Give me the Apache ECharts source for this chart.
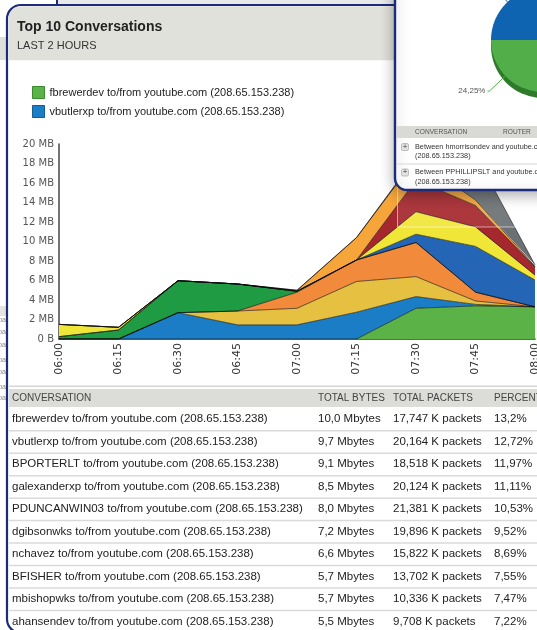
<!DOCTYPE html>
<html>
<head>
<meta charset="utf-8">
<title>Top 10 Conversations</title>
<script src="https://cdn.jsdelivr.net/npm/echarts@6/dist/echarts.min.js"></script>
<style>
  html, body { margin: 0; padding: 0; background: #fff; }
  #main { width: 537px; height: 630px; }
</style>
</head>
<body>
<div id="main"></div>
<script>
// x axis: 15 minute slots, last 2 hours
var times = ['06:00', '06:15', '06:30', '06:45', '07:00', '07:15', '07:30', '07:45', '08:00'];

// conversations, in table order
var hosts = ['fbrewerdev', 'vbutlerxp', 'BPORTERLT', 'galexanderxp', 'PDUNCANWIN03',
	'dgibsonwks', 'nchavez', 'BFISHER', 'mbishopwks', 'ahansendev'];
var peer = ' to/from youtube.com (208.65.153.238)';
var totalBytes = ['10,0 Mbytes', '9,7 Mbytes', '9,1 Mbytes', '8,5 Mbytes', '8,0 Mbytes',
	'7,2 Mbytes', '6,6 Mbytes', '5,7 Mbytes', '5,7 Mbytes', '5,5 Mbytes'];
var totalPackets = ['17,747 K packets', '20,164 K packets', '18,518 K packets', '20,124 K packets', '21,381 K packets',
	'19,896 K packets', '15,822 K packets', '13,702 K packets', '10,336 K packets', '9,708 K packets'];
var percents = ['13,2%', '12,72%', '11,97%', '11,11%', '10,53%', '9,52%', '8,69%', '7,55%', '7,47%', '7,22%'];

// MB per slot for each conversation
var fbrewerdev   = [0, 0, 0, 0, 0, 0, 3.15, 3.4, 3.3];
var vbutlerxp    = [0, 0, 2.7, 1.45, 1.45, 2.75, 1.2, 0.15, 0];
var bporterlt    = [0, 0, 0, 1.42, 1.7, 3.15, 2.05, 0.35, 0];
var galexanderxp = [0, 0, 0, 0, 1.65, 2.2, 3.5, 0.9, 0];
var dgibsonwks   = [0.24, 0.92, 3.28, 2.77, 0.1, 0, 0, 0, 0];
var pduncanwin03 = [0, 0, 0, 0, 0, 0, 0.85, 4.7, 2.75];
var nchavez      = [1.26, 0.28, 0, 0, 0, 0, 2.3, 2.0, 0.5];
var bfisher      = [0, 0, 0, 0, 0, 0, 3.25, 2.2, 0.85];
var mbishopwks   = [0, 0, 0, 0, 0.1, 2.3, 2.2, 0.55, 0.05];
var ahansendev   = [0, 0, 0, 0, 0, 0, 0.2, 4.65, 0.15];

// popup pie (share per router)
var routerShare = [24.25, 26.1, 27.4, 22.25];
var routerRows = ['Between hmorrisondev and youtube.com', 'Between PPHILLIPSLT and youtube.com'];

// stack, bottom to top
var layers = [
	{host: 'fbrewerdev', data: fbrewerdev, color: '#5bb247', border: '#3b8a2c'},
	{host: 'vbutlerxp', data: vbutlerxp, color: '#1b7dc5', border: '#145c94'},
	{host: 'BPORTERLT', data: bporterlt, color: '#e6c040'},
	{host: 'galexanderxp', data: galexanderxp, color: '#f28a3c'},
	{host: 'dgibsonwks', data: dgibsonwks, color: '#1e9b43'},
	{host: 'PDUNCANWIN03', data: pduncanwin03, color: '#2466b5'},
	{host: 'nchavez', data: nchavez, color: '#f0e637'},
	{host: 'BFISHER', data: bfisher, color: '#a5282e'},
	{host: 'mbishopwks', data: mbishopwks, color: '#f5a53a'},
	{host: 'ahansendev', data: ahansendev, color: '#6b7074'}
];

var sans = '"Liberation Sans", Arial, sans-serif';
var verdana = '"DejaVu Sans", Verdana, sans-serif';
var navy = '#1c2b7a';

function init() {
	var myChart = echarts.init(document.getElementById('main'));

	var series = layers.map(function(l) {
		return {
			name: l.host + peer,
			type: 'line',
			stack: 'total',
			data: l.data,
			showSymbol: false,
			symbol: 'none',
			lineStyle: {color: 'rgba(10,10,10,0.6)', width: 1},
			areaStyle: {color: l.color, opacity: 1},
			emphasis: {disabled: true},
			z: 2
		};
	});

	// 3d edge of the pie
	series.push({
		type: 'pie',
		center: [543, 46],
		radius: 52,
		startAngle: 267.3,
		silent: true,
		z: 54,
		label: {show: false},
		labelLine: {show: false},
		data: routerShare.map(function(v, i) {
			return {value: v, itemStyle: {color: ['#2e7a2a', '#0b4c8c', '#8a5a1a', '#777'][i]}};
		})
	});
	series.push({
		type: 'pie',
		center: [543, 40],
		radius: 52,
		startAngle: 267.3,
		silent: true,
		z: 60,
		avoidLabelOverlap: false,
		label: {
			show: true,
			position: 'outside',
			color: '#555',
			fontSize: 8,
			fontFamily: sans,
			distanceToLabelLine: 2,
			formatter: function(p) {
				return p.value.toFixed(2).replace('.', ',') + '%';
			}
		},
		labelLine: {show: true, length: 22, length2: 2, lineStyle: {width: 1}},
		data: routerShare.map(function(v, i) {
			return {value: v, itemStyle: {color: ['#52ae48', '#0e64b0', '#e8a030', '#999'][i]}};
		})
	});

	var g = [];

	// window behind
	g.push({type: 'rect', z: -3, shape: {x: 57, y: 0, width: 340, height: 6}, style: {fill: '#e9e9e9'}});
	g.push({type: 'rect', z: -3, shape: {x: 56, y: 0, width: 2, height: 6}, style: {fill: navy}});
	g.push({type: 'rect', z: -3, shape: {x: 0, y: 37, width: 8, height: 23}, style: {fill: '#dededa'}});
	g.push({type: 'rect', z: -3, shape: {x: 0, y: 306, width: 8, height: 10}, style: {fill: '#e4e4e0'}});
	[320, 332, 345, 360, 372, 387, 398].forEach(function(y) {
		g.push({type: 'text', z: -3, style: {text: 'pa', x: 6, y: y, textAlign: 'right', textVerticalAlign: 'middle', font: '7px ' + sans, fill: '#888'}});
	});

	// main panel
	g.push({type: 'rect', z: -2, shape: {x: 7, y: 5, width: 640, height: 628, r: 14},
		style: {fill: '#fff', stroke: navy, lineWidth: 2.2}});
	g.push({type: 'rect', z: -1, shape: {x: 8.2, y: 6.2, width: 620, height: 54, r: [13, 0, 0, 0]},
		style: {fill: '#e1e1dc'}});
	g.push({type: 'text', z: 1, style: {text: 'Top 10 Conversations', x: 17, y: 27, textVerticalAlign: 'middle',
		font: 'bold 14px ' + sans, fill: '#222'}});
	g.push({type: 'text', z: 1, style: {text: 'LAST 2 HOURS', x: 17, y: 46, textVerticalAlign: 'middle',
		font: '11px ' + sans, fill: '#333'}});

	// table
	var cols = [12, 318, 393, 494];
	var heads = ['CONVERSATION', 'TOTAL BYTES', 'TOTAL PACKETS', 'PERCENT'];
	g.push({type: 'rect', z: -1, shape: {x: 9, y: 385.5, width: 600, height: 1.5}, style: {fill: '#d6d6d6'}});
	g.push({type: 'rect', z: -1, shape: {x: 9, y: 389, width: 600, height: 18}, style: {fill: '#dcdcd8'}});
	heads.forEach(function(h, i) {
		g.push({type: 'text', z: 1, style: {text: h, x: cols[i], y: 398.5, textVerticalAlign: 'middle',
			font: '10px ' + sans, fill: '#444'}});
	});
	var rowTop = 408.1, rowH = 22.45;
	hosts.forEach(function(h, i) {
		var cy = rowTop + rowH * (i + 0.5);
		var cells = [h + peer, totalBytes[i], totalPackets[i], percents[i]];
		cells.forEach(function(c, j) {
			g.push({type: 'text', z: 1, style: {text: c, x: cols[j], y: cy, textVerticalAlign: 'middle',
				font: '11.5px ' + sans, fill: '#222'}});
		});
		if (i < hosts.length - 1) {
			g.push({type: 'rect', z: -1, shape: {x: 9, y: rowTop + rowH * (i + 1) - 0.5, width: 600, height: 1.5},
				style: {fill: '#dadada'}});
		}
	});

	// faint hover box over the peak
	g.push({type: 'rect', z: 40, shape: {x: 397.5, y: 150, width: 160, height: 77},
		style: {fill: 'rgba(255,255,255,0.08)', stroke: 'rgba(255,255,255,0.55)', lineWidth: 1}});

	// popup window
	g.push({type: 'rect', z: 50, shape: {x: 395, y: -30, width: 220, height: 220, r: 12},
		style: {fill: '#fff', stroke: navy, lineWidth: 2.4, shadowBlur: 14, shadowColor: 'rgba(0,0,0,0.3)', shadowOffsetY: 4}});
	g.push({type: 'rect', z: 51, shape: {x: 397, y: 126, width: 200, height: 12}, style: {fill: '#d9d9d5'}});
	g.push({type: 'text', z: 52, style: {text: 'CONVERSATION', x: 415, y: 132.5, textVerticalAlign: 'middle',
		font: '6.6px ' + sans, fill: '#555'}});
	g.push({type: 'text', z: 52, style: {text: 'ROUTER', x: 503, y: 132.5, textVerticalAlign: 'middle',
		font: '6.6px ' + sans, fill: '#555'}});
	routerRows.forEach(function(r, i) {
		var y0 = 146.5 + i * 25.5;
		g.push({type: 'rect', z: 51, shape: {x: 401.5, y: y0 - 3, width: 7, height: 7, r: 1.5},
			style: {fill: '#e2e2e2', stroke: '#b0b0b0', lineWidth: 0.8}});
		g.push({type: 'text', z: 52, style: {text: '+', x: 405, y: y0 + 0.5, textAlign: 'center', textVerticalAlign: 'middle',
			font: 'bold 7px ' + sans, fill: '#777'}});
		g.push({type: 'text', z: 52, style: {text: r, x: 415, y: y0, textVerticalAlign: 'middle',
			font: '7.3px ' + sans, fill: '#333'}});
		g.push({type: 'text', z: 52, style: {text: '(208.65.153.238)', x: 415, y: y0 + 9.5, textVerticalAlign: 'middle',
			font: '7.3px ' + sans, fill: '#333'}});
	});
	g.push({type: 'rect', z: 51, shape: {x: 397, y: 163.5, width: 200, height: 1}, style: {fill: '#d8d8d8'}});

	var option = {
		animation: false,
		textStyle: {fontFamily: sans},
		legend: {
			orient: 'vertical',
			left: 27,
			top: 81,
			itemWidth: 12,
			itemHeight: 12,
			itemGap: 6,
			icon: 'rect',
			selectedMode: false,
			textStyle: {fontFamily: sans, fontSize: 11, color: '#222'},
			data: layers.slice(0, 2).map(function(l) {
				return {name: l.host + peer, itemStyle: {color: l.color, borderColor: l.border, borderWidth: 1}};
			})
		},
		grid: {left: 59, right: 2, top: 144, bottom: 291, containLabel: false, outerBoundsMode: 'none'},
		xAxis: {
			type: 'category',
			boundaryGap: false,
			data: times,
			axisLine: {lineStyle: {color: '#333', width: 1.5}},
			axisTick: {show: false},
			axisLabel: {rotate: 90, interval: 0, margin: 4, fontFamily: verdana, fontSize: 11, color: '#333'}
		},
		yAxis: {
			type: 'value',
			min: 0,
			max: 20,
			interval: 2,
			axisLine: {show: true, lineStyle: {color: '#444', width: 1.5}},
			axisTick: {show: false},
			splitLine: {show: false},
			axisLabel: {
				margin: 5,
				fontFamily: verdana,
				fontSize: 10,
				color: '#555',
				formatter: function(v) {
					return v === 0 ? '0 B' : v + ' MB';
				}
			}
		},
		graphic: {elements: g},
		series: series
	};

	myChart.setOption(option);
}

init();
</script>
</body>
</html>
